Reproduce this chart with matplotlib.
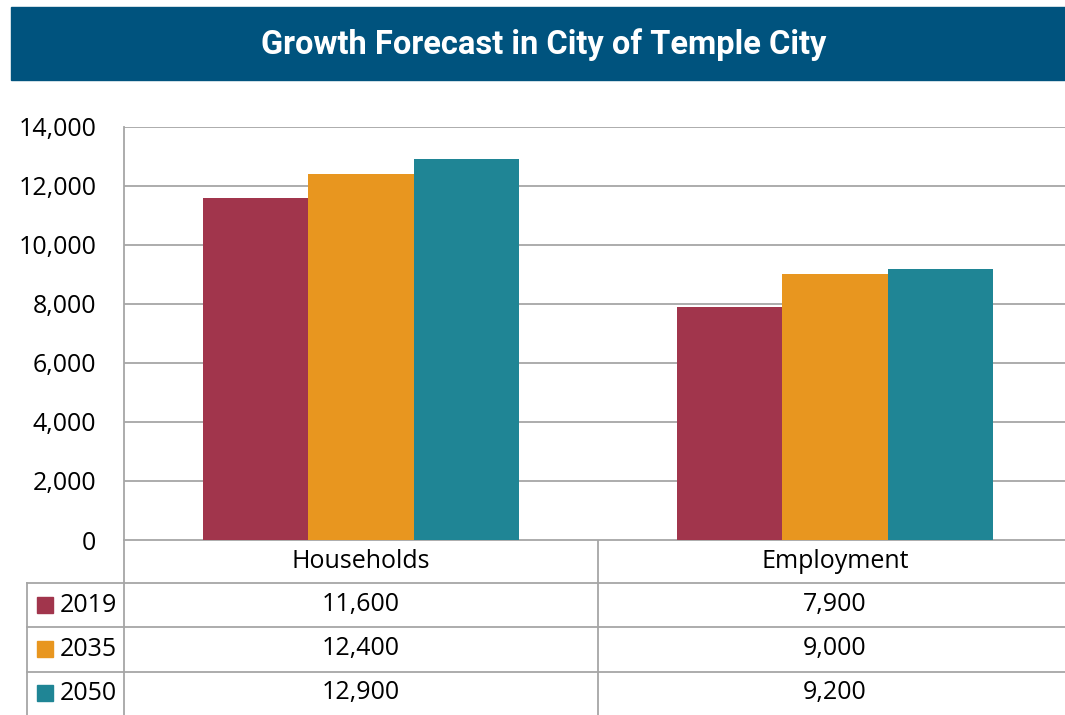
import matplotlib
matplotlib.use("Agg")
import matplotlib.pyplot as plt
import matplotlib.transforms as mtransforms
from matplotlib.patches import Rectangle
import numpy as np

# data
categories = ["Households", "Employment"]
years = ["2019", "2035", "2050"]
values = {
    "2019": [11600, 7900],
    "2035": [12400, 9000],
    "2050": [12900, 9200],
}
yticks = [0, 2000, 4000, 6000, 8000, 10000, 12000, 14000]
colors = ["#A1354C", "#E8961F", "#1F8595"]
title = "Growth Forecast in City of Temple City"

W, H = 1065, 715
GRID = "#A6A6A6"
FS = 18

fig = plt.figure(figsize=(W / 100, H / 100), dpi=100)

# overlay in pixel coords for banner and table
ov = fig.add_axes([0, 0, 1, 1])
ov.set_xlim(0, W)
ov.set_ylim(H, 0)
ov.axis("off")

ov.add_patch(Rectangle((11, 7), W - 11, 73, color="#00537E", zorder=1))
ov.text(544, 45, title, color="white", fontsize=23.5, fontweight="bold",
        family="Roboto", ha="center", va="center", zorder=2)

# bar axes (right edge runs a little past the image, as in the original)
ax = fig.add_axes([124 / W, 1 - 540 / H, (1072 - 124) / W, (540 - 127) / H])
x = np.arange(len(categories))
bw = 0.2226
for i, yr in enumerate(years):
    ax.bar(x + (i - 1) * bw, values[yr], width=bw, color=colors[i], zorder=3)

ax.set_xlim(-0.5, len(categories) - 0.5)
ax.set_ylim(0, 14000)
ax.set_yticks(yticks)
ax.set_yticklabels([f"{v:,}" for v in yticks], family="Open Sans", fontsize=FS)
ax.tick_params(axis="y", length=0, pad=20)
ax.set_xticks([])
ax.yaxis.grid(True, color=GRID, linewidth=1.3)
for s in ["top", "right", "bottom"]:
    ax.spines[s].set_visible(False)
ax.spines["left"].set_color(GRID)
ax.spines["left"].set_linewidth(1.3)

# data table under the chart
tr = mtransforms.blended_transform_factory(ax.transData, ov.transData)
row_lines = [583, 627, 672]
row_mid = [605, 649, 693]
lw = 1.3
ov.plot([124, 124], [540, H], color=GRID, lw=lw, zorder=2)
ov.plot([27, 27], [583, H], color=GRID, lw=lw, zorder=2)
ov.plot([124, W], [540, 540], color=GRID, lw=lw, zorder=2)
for yl in row_lines:
    ov.plot([27, W], [yl, yl], color=GRID, lw=lw, zorder=2)
# divider between categories
ov.plot([0.5, 0.5], [540, H], color=GRID, lw=lw, transform=tr, zorder=2)

for j, cat in enumerate(categories):
    ov.text(j, 562, cat, transform=tr, ha="center", va="center",
            family="Open Sans", fontsize=FS)
for i, yr in enumerate(years):
    ov.add_patch(Rectangle((37, row_mid[i] - 8), 16, 16, color=colors[i], zorder=3))
    ov.text(60, row_mid[i], yr, ha="left", va="center",
            family="Open Sans", fontsize=FS)
    for j in range(len(categories)):
        ov.text(j, row_mid[i], f"{values[yr][j]:,}", transform=tr,
                ha="center", va="center", family="Open Sans", fontsize=FS)

fig.savefig("out.png", dpi=100)
